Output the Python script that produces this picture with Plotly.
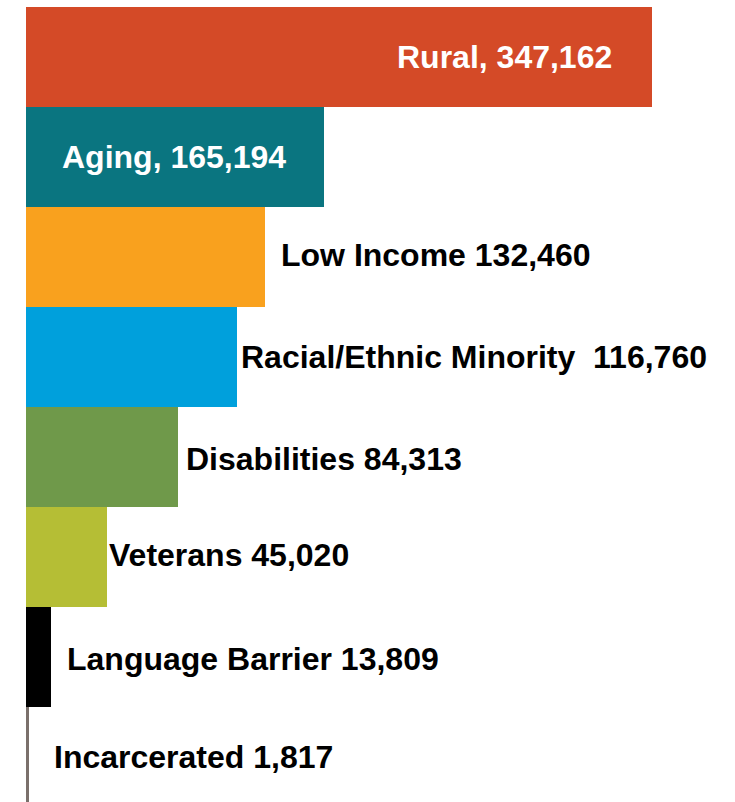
import plotly.graph_objects as go

categories = ["Rural", "Aging", "Low Income", "Racial/Ethnic Minority", "Disabilities",
              "Veterans", "Language Barrier", "Incarcerated"]
values = [347162, 165194, 132460, 116760, 84313, 45020, 13809, 1817]
labels = ["Rural, 347,162", "Aging, 165,194", "Low Income 132,460",
          "Racial/Ethnic Minority&nbsp; 116,760", "Disabilities 84,313",
          "Veterans 45,020", "Language Barrier 13,809", "Incarcerated 1,817"]

colors = ["#D44A27", "#0A7580", "#F9A11E", "#00A0DC", "#6F994A", "#B5BE35", "#000000", "#7A706B"]
label_inside = [True, True, False, False, False, False, False, False]
label_shift = [-38, -36, 14, 2, 6, 0, 14, 23]
label_yshift = [0, 0, 2, 0, -2, 2, -2, 0]

fig = go.Figure(go.Bar(
    x=values, y=list(range(len(categories))), orientation="h",
    marker=dict(color=colors, line=dict(width=0)),
    width=1.0, hoverinfo="skip",
))

for i, (v, lab) in enumerate(zip(values, labels)):
    fig.add_annotation(
        x=v, y=i, text=f"<b>{lab}</b>", showarrow=False,
        xanchor="right" if label_inside[i] else "left", yanchor="middle",
        xshift=label_shift[i], yshift=label_yshift[i],
        font=dict(family="Liberation Sans, Arial", size=32,
                  color="#FFFFFF" if label_inside[i] else "#000000"),
    )

px_per_unit = 626 / 347162
fig.update_layout(
    width=735, height=802,
    margin=dict(l=0, r=0, t=0, b=0),
    paper_bgcolor="white", plot_bgcolor="white",
    showlegend=False, bargap=0,
    xaxis=dict(range=[-26 / px_per_unit, (735 - 26) / px_per_unit], visible=False, fixedrange=True),
    yaxis=dict(range=[7.45, -0.57], visible=False, fixedrange=True),
)

fig.write_html("out.html")
